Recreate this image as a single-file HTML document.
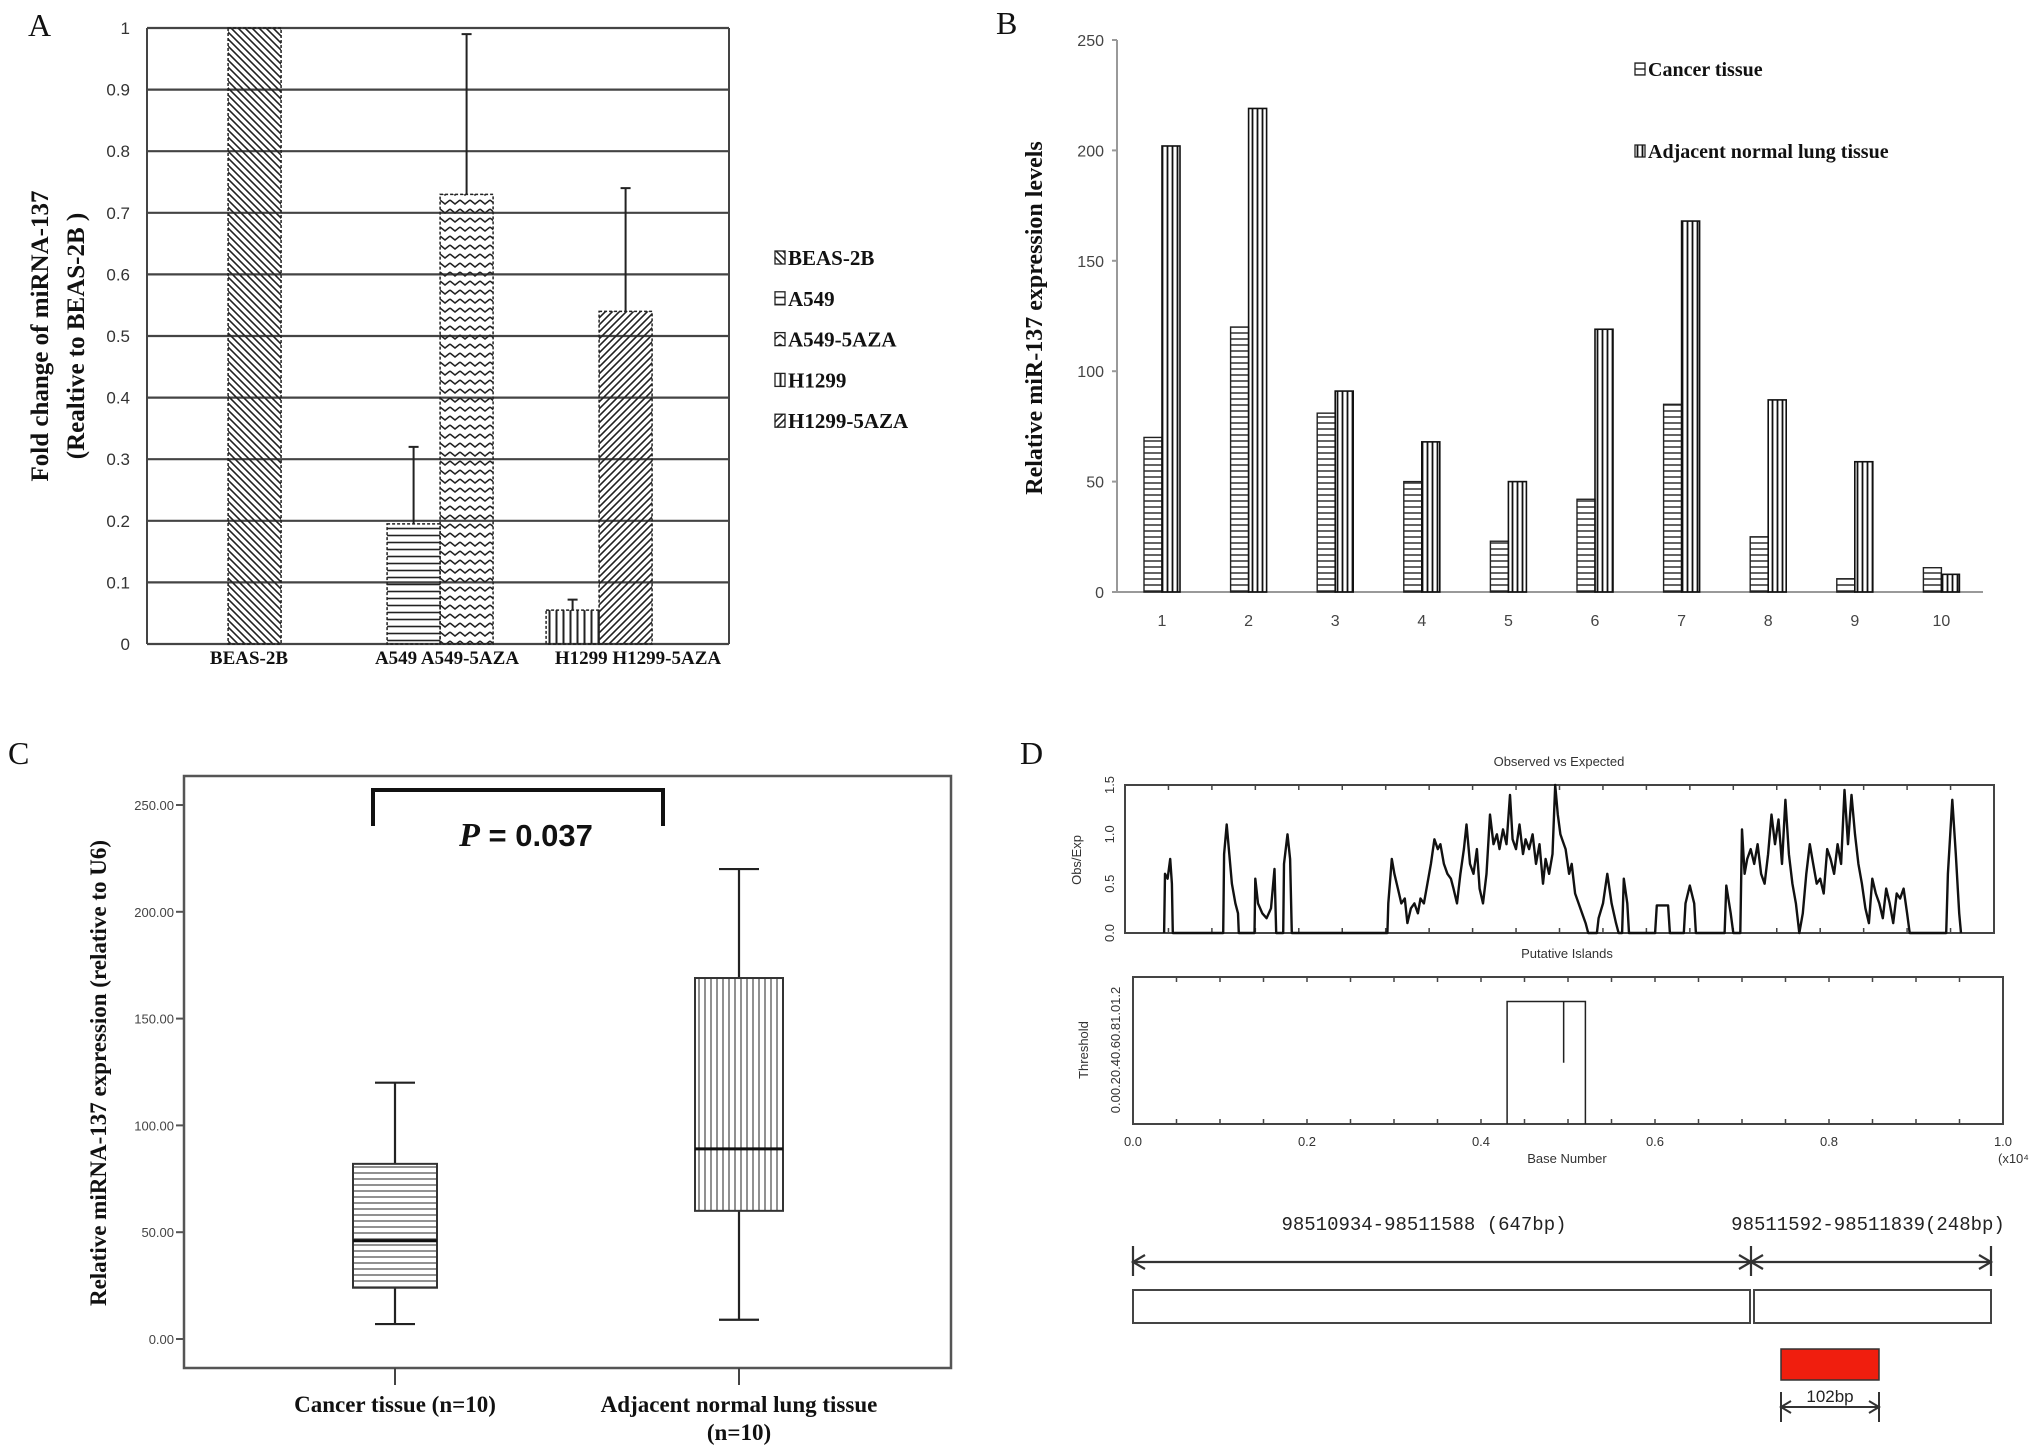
<!DOCTYPE html>
<html><head><meta charset="utf-8"><style>
html,body{margin:0;padding:0;background:#fff;}
svg{display:block;}
</style></head><body>
<svg id="fig" width="2031" height="1450" viewBox="0 0 2031 1450" xmlns="http://www.w3.org/2000/svg">
<defs>
<pattern id="pA1" width="7" height="7" patternUnits="userSpaceOnUse"><path d="M-1,-1 L8,8 M-8,-1 L1,8 M6,-1 L15,8" stroke="#222" stroke-width="1.6"/></pattern>
<pattern id="pA2" width="8" height="7" patternUnits="userSpaceOnUse"><path d="M0,3.5 H8" stroke="#222" stroke-width="1.6"/></pattern>
<pattern id="pA3" width="10" height="9" patternUnits="userSpaceOnUse"><path d="M0,2 L5,6 L10,2" fill="none" stroke="#222" stroke-width="1.5"/></pattern>
<pattern id="pA4" width="7" height="8" patternUnits="userSpaceOnUse"><path d="M3.5,0 V8" stroke="#222" stroke-width="2"/></pattern>
<pattern id="pA5" width="7" height="7" patternUnits="userSpaceOnUse"><path d="M-1,8 L8,-1 M-8,8 L1,-1 M6,8 L15,-1" stroke="#222" stroke-width="1.6"/></pattern>
<pattern id="pB1" width="8" height="6" patternUnits="userSpaceOnUse"><path d="M0,3 H8" stroke="#222" stroke-width="1.4"/></pattern>
<pattern id="pB2" width="5" height="8" patternUnits="userSpaceOnUse"><path d="M2.5,0 V8" stroke="#111" stroke-width="1.8"/></pattern>
<pattern id="pC1" width="8" height="6" patternUnits="userSpaceOnUse"><path d="M0,3 H8" stroke="#555" stroke-width="1.3"/></pattern>
<pattern id="pC2" width="6" height="8" patternUnits="userSpaceOnUse"><path d="M3,0 V8" stroke="#555" stroke-width="1.3"/></pattern>
</defs>
<g id="gA"></g>
<g id="gB"></g>
<g id="gC"></g>
<g id="gD"></g>
</svg>
<script>
// ---------- Panel A data ----------
const aCategories = ["BEAS-2B","A549","A549-5AZA","H1299","H1299-5AZA"];
const aValues = [1.0, 0.195, 0.73, 0.055, 0.54];
const aErrors = [0, 0.125, 0.26, 0.017, 0.20];
const aTicks = [0,0.1,0.2,0.3,0.4,0.5,0.6,0.7,0.8,0.9,1];
// ---------- Panel B data ----------
const bCategories = ["1","2","3","4","5","6","7","8","9","10"];
const bCancer = [70,120,81,50,23,42,85,25,6,11];
const bNormal = [202,219,91,68,50,119,168,87,59,8];
const bTicks = [0,50,100,150,200,250];
// ---------- Panel C data ----------
const cGroups = ["Cancer tissue (n=10)","Adjacent normal lung tissue"];
const cMin = [7, 9];
const cQ1 = [24, 60];
const cMedian = [46, 89];
const cQ3 = [82, 169];
const cMax = [120, 220];
const cTicks = [0,50,100,150,200,250];
// ---------- Panel D data ----------
const dBase = [0.045,0.046,0.049,0.052,0.054,0.055,
 0.113,0.114,0.117,0.12,0.123,0.127,0.13,0.131,
 0.149,0.15,0.153,0.158,0.163,0.168,0.172,0.174,
 0.182,0.183,0.187,0.19,0.192,
 0.302,0.303,0.307,0.31,0.314,0.318,0.322,0.325,0.329,0.333,0.337,0.34,0.344,0.348,0.352,0.356,0.36,0.363,0.367,0.371,0.375,0.378,0.382,0.386,0.39,0.393,0.397,0.401,0.405,0.408,0.412,0.416,0.42,0.424,0.428,0.431,0.435,0.439,0.443,0.446,0.45,0.454,0.458,0.461,0.465,0.469,0.473,0.477,0.481,0.484,0.488,0.492,0.495,0.498,0.501,0.503,0.507,0.511,0.514,0.518,0.522,0.526,0.53,0.533,
 0.543,0.545,0.55,0.555,0.56,0.565,0.568,0.572,0.574,0.578,0.58,
 0.61,0.612,0.625,0.627,0.643,0.645,0.65,0.655,0.657,
 0.69,0.692,0.697,0.7,
 0.708,0.71,0.713,0.716,0.72,0.724,0.728,0.732,0.736,0.74,0.744,0.748,0.752,0.756,0.76,0.764,0.768,0.772,0.776,0.78,0.784,0.788,0.792,0.796,0.8,0.804,0.808,0.812,0.816,0.82,0.824,0.828,0.832,0.836,0.84,0.844,0.848,0.852,0.856,0.86,0.864,0.868,0.872,0.876,0.88,0.884,0.888,0.892,0.896,0.9,0.903,
 0.945,0.947,0.952,0.956,0.96,0.962];
const dRatio = [0,0.6,0.55,0.75,0.5,0,
 0,0.8,1.1,0.8,0.5,0.3,0.2,0,
 0,0.55,0.3,0.2,0.15,0.25,0.65,0,
 0,0.7,1.0,0.75,0,
 0,0.3,0.75,0.6,0.45,0.3,0.35,0.1,0.25,0.3,0.2,0.35,0.3,0.5,0.7,0.95,0.85,0.9,0.7,0.6,0.55,0.45,0.3,0.6,0.85,1.1,0.7,0.6,0.85,0.45,0.3,0.6,1.2,0.9,1.0,0.85,1.05,0.9,1.4,0.95,0.85,1.1,0.8,0.95,0.85,1.0,0.7,0.9,0.5,0.75,0.6,0.8,1.5,1.2,1.0,0.95,0.85,0.6,0.7,0.4,0.3,0.2,0.1,0,
 0,0.15,0.3,0.6,0.3,0.1,0,0,0.55,0.3,0,
 0,0.28,0.28,0,0,0.3,0.48,0.3,0,
 0,0.48,0.2,0,
 0,1.05,0.6,0.75,0.85,0.7,0.9,0.6,0.5,0.8,1.2,0.9,1.15,0.7,1.35,0.8,0.5,0.3,0.0,0.2,0.6,0.9,0.7,0.5,0.55,0.4,0.85,0.75,0.6,0.9,0.7,1.45,0.9,1.4,1.0,0.7,0.5,0.25,0.1,0.55,0.4,0.3,0.15,0.45,0.3,0.1,0.4,0.35,0.45,0.2,0,
 0,0.6,1.35,0.8,0.2,0];

const NS="http://www.w3.org/2000/svg";
function mk(parent, tag, attrs, text){
  const e=document.createElementNS(NS,tag);
  for(const k in attrs) e.setAttribute(k, attrs[k]);
  if(text!==undefined) e.textContent=text;
  parent.appendChild(e); return e;
}
const SERIF='"Liberation Serif", serif', SANS='"Liberation Sans", sans-serif', MONO='"Liberation Mono", monospace';

// ================= PANEL A =================
(function(){
  const g=document.getElementById('gA');
  const L=147,R=729,Y0=644,Y1=28;
  const yA=v=>Y0-(v/1)*(Y0-Y1);
  const slot=[1.53,4.53,5.53,7.53,8.53], bw=53;
  const pats=['pA1','pA2','pA3','pA4','pA5'];
  let t=mk(g,'text',{x:28,y:36,'font-family':SERIF,'font-size':32,fill:'#111'},'A');
  
  
  aTicks.forEach(v=>{
    const l=mk(g,'line',{x1:L,x2:R,y1:yA(v),y2:yA(v),stroke:'#444','stroke-width':2.2});
    
    
    const tx=mk(g,'text',{x:130,y:yA(v)+6,'text-anchor':'end','font-family':SANS,'font-size':17,fill:'#333'},String(v));
    
    
  });
  let ax=mk(g,'line',{x1:L,x2:L,y1:Y1,y2:Y0,stroke:'#444','stroke-width':2});
  
  
  let rx=mk(g,'line',{x1:R,x2:R,y1:Y1,y2:Y0,stroke:'#444','stroke-width':2});
  
  
  aValues.forEach((v,i)=>{
    const x=L+slot[i]*bw;
    const r=mk(g,'rect',{x:x,y:yA(v),width:bw,height:Y0-yA(v),fill:'url(#'+pats[i]+')',stroke:'#222','stroke-width':1.5,'stroke-dasharray':'3,2'});
    
    
    if(aErrors[i]>0){
      const cx=x+bw/2;
      const e=mk(g,'path',{d:`M${cx},${yA(v)} V${yA(v+aErrors[i])} M${cx-5},${yA(v+aErrors[i])} H${cx+5}`,stroke:'#222','stroke-width':2,fill:'none'});
      
      
    }
  });
  const xl=[[249,'BEAS-2B'],[447,'A549 A549-5AZA'],[638,'H1299 H1299-5AZA']];
  xl.forEach(p=>{
    const tx=mk(g,'text',{x:p[0],y:664,'text-anchor':'middle','font-family':SERIF,'font-weight':'bold','font-size':19,fill:'#111'},p[1]);
    
    
  });
  const yt=mk(g,'text',{transform:'translate(48,336) rotate(-90)','text-anchor':'middle','font-family':SERIF,'font-weight':'bold','font-size':25,fill:'#111'},'Fold change of miRNA-137');
  
  
  const yt2=mk(g,'text',{transform:'translate(84,336) rotate(-90)','text-anchor':'middle','font-family':SERIF,'font-weight':'bold','font-size':25,fill:'#111'},'(Realtive to BEAS-2B )');
  
  
  aCategories.forEach((c,i)=>{
    const y=258+i*40.8;
    const s=mk(g,'rect',{x:775,y:y-7,width:10,height:13,fill:'url(#'+pats[i]+')',stroke:'#222','stroke-width':1.3});
    
    
    const tx=mk(g,'text',{x:788,y:y+7,'font-family':SERIF,'font-weight':'bold','font-size':21,fill:'#111'},c);
    
    
  });
})();

// ================= PANEL B =================
(function(){
  const g=document.getElementById('gB');
  const L=1117,R=1983,Y0=592,Y250=40;
  const yB=v=>Y0-v*(Y0-Y250)/250;
  const xB=i=>1162+i*86.6;
  const bw=18;
  let t=mk(g,'text',{x:996,y:34,'font-family':SERIF,'font-size':32,fill:'#111'},'B');
  
  
  const ax=mk(g,'path',{d:`M${L},${Y250} V${Y0} H${R}`,stroke:'#999','stroke-width':2,fill:'none'});
  
  
  bTicks.forEach(v=>{
    const tk=mk(g,'line',{x1:L-5,x2:L,y1:yB(v),y2:yB(v),stroke:'#999','stroke-width':2});
    
    
    const tx=mk(g,'text',{x:1104,y:yB(v)+6,'text-anchor':'end','font-family':SANS,'font-size':16,fill:'#444'},String(v));
    
    
  });
  bCategories.forEach((c,i)=>{
    const cx=xB(i);
    const r1=mk(g,'rect',{x:cx-bw,y:yB(bCancer[i]),width:bw,height:Y0-yB(bCancer[i]),fill:'url(#pB1)',stroke:'#222','stroke-width':1.4});
    
    
    const r2=mk(g,'rect',{x:cx,y:yB(bNormal[i]),width:bw,height:Y0-yB(bNormal[i]),fill:'url(#pB2)',stroke:'#111','stroke-width':1.6});
    
    
    const tx=mk(g,'text',{x:cx,y:626,'text-anchor':'middle','font-family':SANS,'font-size':16,fill:'#444'},c);
    
    
  });
  const yt=mk(g,'text',{transform:'translate(1042,318) rotate(-90)','text-anchor':'middle','font-family':SERIF,'font-weight':'bold','font-size':24,fill:'#111'},'Relative miR-137 expression levels');
  
  
  const leg=[['Cancer tissue','pB1',69],['Adjacent normal lung tissue','pB2',151]];
  leg.forEach(p=>{
    const s=mk(g,'rect',{x:1635,y:p[2]-6,width:10,height:12,fill:'url(#'+p[1]+')',stroke:'#222','stroke-width':1.3});
    
    
    const tx=mk(g,'text',{x:1648,y:p[2]+7,'font-family':SERIF,'font-weight':'bold','font-size':20,fill:'#111'},p[0]);
    
    
  });
})();

// ================= PANEL C =================
(function(){
  const g=document.getElementById('gC');
  const L=184,R=951,T=776,B=1368;
  const yC=v=>1339-v*(1339-805)/250;
  const xC=[395,739], bw=[84,88];
  let t=mk(g,'text',{x:8,y:764,'font-family':SERIF,'font-size':32,fill:'#111'},'C');
  
  
  const fr=mk(g,'rect',{x:L,y:T,width:R-L,height:B-T,fill:'none',stroke:'#555','stroke-width':2.5});
  
  
  cTicks.forEach(v=>{
    const tk=mk(g,'line',{x1:L-8,x2:L,y1:yC(v),y2:yC(v),stroke:'#555','stroke-width':2});
    
    
    const tx=mk(g,'text',{x:L-10,y:yC(v)+5,'text-anchor':'end','font-family':SANS,'font-size':13,fill:'#444'},v.toFixed(2));
    
    
  });
  const pats=['pC1','pC2'];
  cGroups.forEach((gname,i)=>{
    const cx=xC[i], w=bw[i];
    const wh=mk(g,'path',{d:`M${cx},${yC(cMax[i])} V${yC(cQ3[i])} M${cx},${yC(cQ1[i])} V${yC(cMin[i])} M${cx-20},${yC(cMax[i])} H${cx+20} M${cx-20},${yC(cMin[i])} H${cx+20}`,stroke:'#222','stroke-width':2.2,fill:'none'});
    
    
    const bx=mk(g,'rect',{x:cx-w/2,y:yC(cQ3[i]),width:w,height:yC(cQ1[i])-yC(cQ3[i]),fill:'url(#'+pats[i]+')',stroke:'#333','stroke-width':2});
    
    
    const md=mk(g,'line',{x1:cx-w/2,x2:cx+w/2,y1:yC(cMedian[i]),y2:yC(cMedian[i]),stroke:'#111','stroke-width':3});
    
    
    const tk=mk(g,'line',{x1:cx,x2:cx,y1:B,y2:B+17,stroke:'#444','stroke-width':2});
    
    
    const tx=mk(g,'text',{x:cx,y:1412,'text-anchor':'middle','font-family':SERIF,'font-weight':'bold','font-size':23,fill:'#111'},gname);
    
    
  });
  const n2=mk(g,'text',{x:739,y:1440,'text-anchor':'middle','font-family':SERIF,'font-weight':'bold','font-size':23,fill:'#111'},'(n=10)');
  
  
  const br=mk(g,'path',{d:'M373,826 V790 H663 V826',stroke:'#111','stroke-width':4,fill:'none'});
  
  
  const pv=mk(g,'text',{x:526,y:846,'text-anchor':'middle','font-family':SANS,'font-weight':'bold','font-size':31,fill:'#111'});
  
  
  mk(pv,'tspan',{'font-style':'italic','font-family':SERIF,'font-size':34},'P');
  mk(pv,'tspan',{},' = 0.037');
  const yt=mk(g,'text',{transform:'translate(106,1073) rotate(-90)','text-anchor':'middle','font-family':SERIF,'font-weight':'bold','font-size':23,fill:'#111'},'Relative miRNA-137 expression (relative to U6)');
  
  
})();

// ================= PANEL D =================
(function(){
  const g=document.getElementById('gD');
  let t=mk(g,'text',{x:1020,y:764,'font-family':SERIF,'font-size':32,fill:'#111'},'D');
  
  
  const sm={'font-family':SANS,'font-size':13,fill:'#333'};
  const tt=mk(g,'text',Object.assign({x:1559,y:766,'text-anchor':'middle'},sm),'Observed vs Expected');
  
  
  // top plot
  const L1=1125,R1=1994,T1=785,B1=933;
  const xD=b=>L1+b*(R1-L1);
  const yD=r=>B1-r/1.5*(B1-T1);
  const f1=mk(g,'rect',{x:L1,y:T1,width:R1-L1,height:B1-T1,fill:'none',stroke:'#444','stroke-width':2});
  
  
  let tk1='';
  for(let k=1;k<20;k++){ const x=xD(k/20); tk1+=`M${x},${T1} v5 M${x},${B1} v-5 `; }
  const tkp=mk(g,'path',{d:tk1,stroke:'#444','stroke-width':1.5,fill:'none'});
  
  
  [0,0.5,1.0,1.5].forEach(v=>{
    const tx=mk(g,'text',Object.assign({transform:`translate(1114,${yD(v)}) rotate(-90)`,'text-anchor':'middle'},sm),v.toFixed(1));
    
    
  });
  const ol=mk(g,'text',Object.assign({transform:'translate(1081,860) rotate(-90)','text-anchor':'middle'},sm),'Obs/Exp');
  
  
  let d='';
  dBase.forEach((b,i)=>{ d+=(i?' L':'M')+xD(b).toFixed(1)+','+yD(dRatio[i]).toFixed(1); });
  const ln=mk(g,'path',{d:d,stroke:'#111','stroke-width':2.4,fill:'none','stroke-linejoin':'round'});
  
  
  const pi=mk(g,'text',Object.assign({x:1567,y:958,'text-anchor':'middle'},sm),'Putative Islands');
  
  
  // threshold plot
  const L2=1133,R2=2003,T2=977,B2=1124;
  const xT=b=>L2+b*(R2-L2);
  const yT=v=>B2-v/1.2*(B2-T2);
  const f2=mk(g,'rect',{x:L2,y:T2,width:R2-L2,height:B2-T2,fill:'none',stroke:'#444','stroke-width':2});
  
  
  let tk2='';
  for(let k=1;k<20;k++){ const x=xT(k/20); tk2+=`M${x},${T2} v5 M${x},${B2} v-5 `; }
  const tkq=mk(g,'path',{d:tk2,stroke:'#444','stroke-width':1.5,fill:'none'});
  
  
  const isl=mk(g,'path',{d:`M${xT(0.43)},${B2} V${yT(1.0)} H${xT(0.52)} V${B2} M${xT(0.495)},${yT(1.0)} V${yT(0.5)}`,stroke:'#222','stroke-width':1.5,fill:'none'});
  
  
  const tl=mk(g,'text',Object.assign({transform:'translate(1088,1050) rotate(-90)','text-anchor':'middle'},sm),'Threshold');
  
  
  const tyl=mk(g,'text',Object.assign({transform:'translate(1120,1050) rotate(-90)','text-anchor':'middle'},sm),'0.00.20.40.60.81.01.2');
  
  
  [0,0.2,0.4,0.6,0.8,1.0].forEach(v=>{
    const tx=mk(g,'text',Object.assign({x:xT(v),y:1146,'text-anchor':'middle'},sm),v.toFixed(1));
    
    
  });
  const bn=mk(g,'text',Object.assign({x:1567,y:1163,'text-anchor':'middle'},sm),'Base Number');
  
  
  const xe=mk(g,'text',Object.assign({x:1998,y:1163},sm),'(x10⁴');
  
  
  // region diagram
  const mono={'font-family':MONO,'font-size':19,fill:'#222'};
  const r1=mk(g,'text',Object.assign({x:1424,y:1230,'text-anchor':'middle','xml:space':'preserve'},mono),'98510934-98511588    (647bp)');
  
  
  const r2=mk(g,'text',Object.assign({x:1868,y:1230,'text-anchor':'middle'},mono),'98511592-98511839(248bp)');
  
  
  const ar=mk(g,'path',{d:'M1133,1246 V1276 M1751,1246 V1276 M1991,1246 V1276 M1133,1262 H1991 M1145,1255 L1133,1262 L1145,1269 M1739,1255 L1751,1262 L1739,1269 M1763,1255 L1751,1262 L1763,1269 M1979,1255 L1991,1262 L1979,1269',stroke:'#333','stroke-width':2.2,fill:'none'});
  
  
  const b1=mk(g,'rect',{x:1133,y:1290,width:617,height:33,fill:'#fff',stroke:'#444','stroke-width':2});
  
  
  const b2=mk(g,'rect',{x:1754,y:1290,width:237,height:33,fill:'#fff',stroke:'#444','stroke-width':2});
  
  
  const rr=mk(g,'rect',{x:1781,y:1349,width:98,height:31,fill:'#f01e0e',stroke:'#333','stroke-width':1.5});
  
  
  const a2=mk(g,'path',{d:'M1781,1392 V1422 M1879,1392 V1422 M1781,1407 H1879 M1791,1401 L1781,1407 L1791,1413 M1869,1401 L1879,1407 L1869,1413',stroke:'#333','stroke-width':2,fill:'none'});
  
  
  const at=mk(g,'text',Object.assign({x:1830,y:1402,'text-anchor':'middle'},{'font-family':SANS,'font-size':17,fill:'#222'}),'102bp');
  
  
})();
</script>
</body></html>
